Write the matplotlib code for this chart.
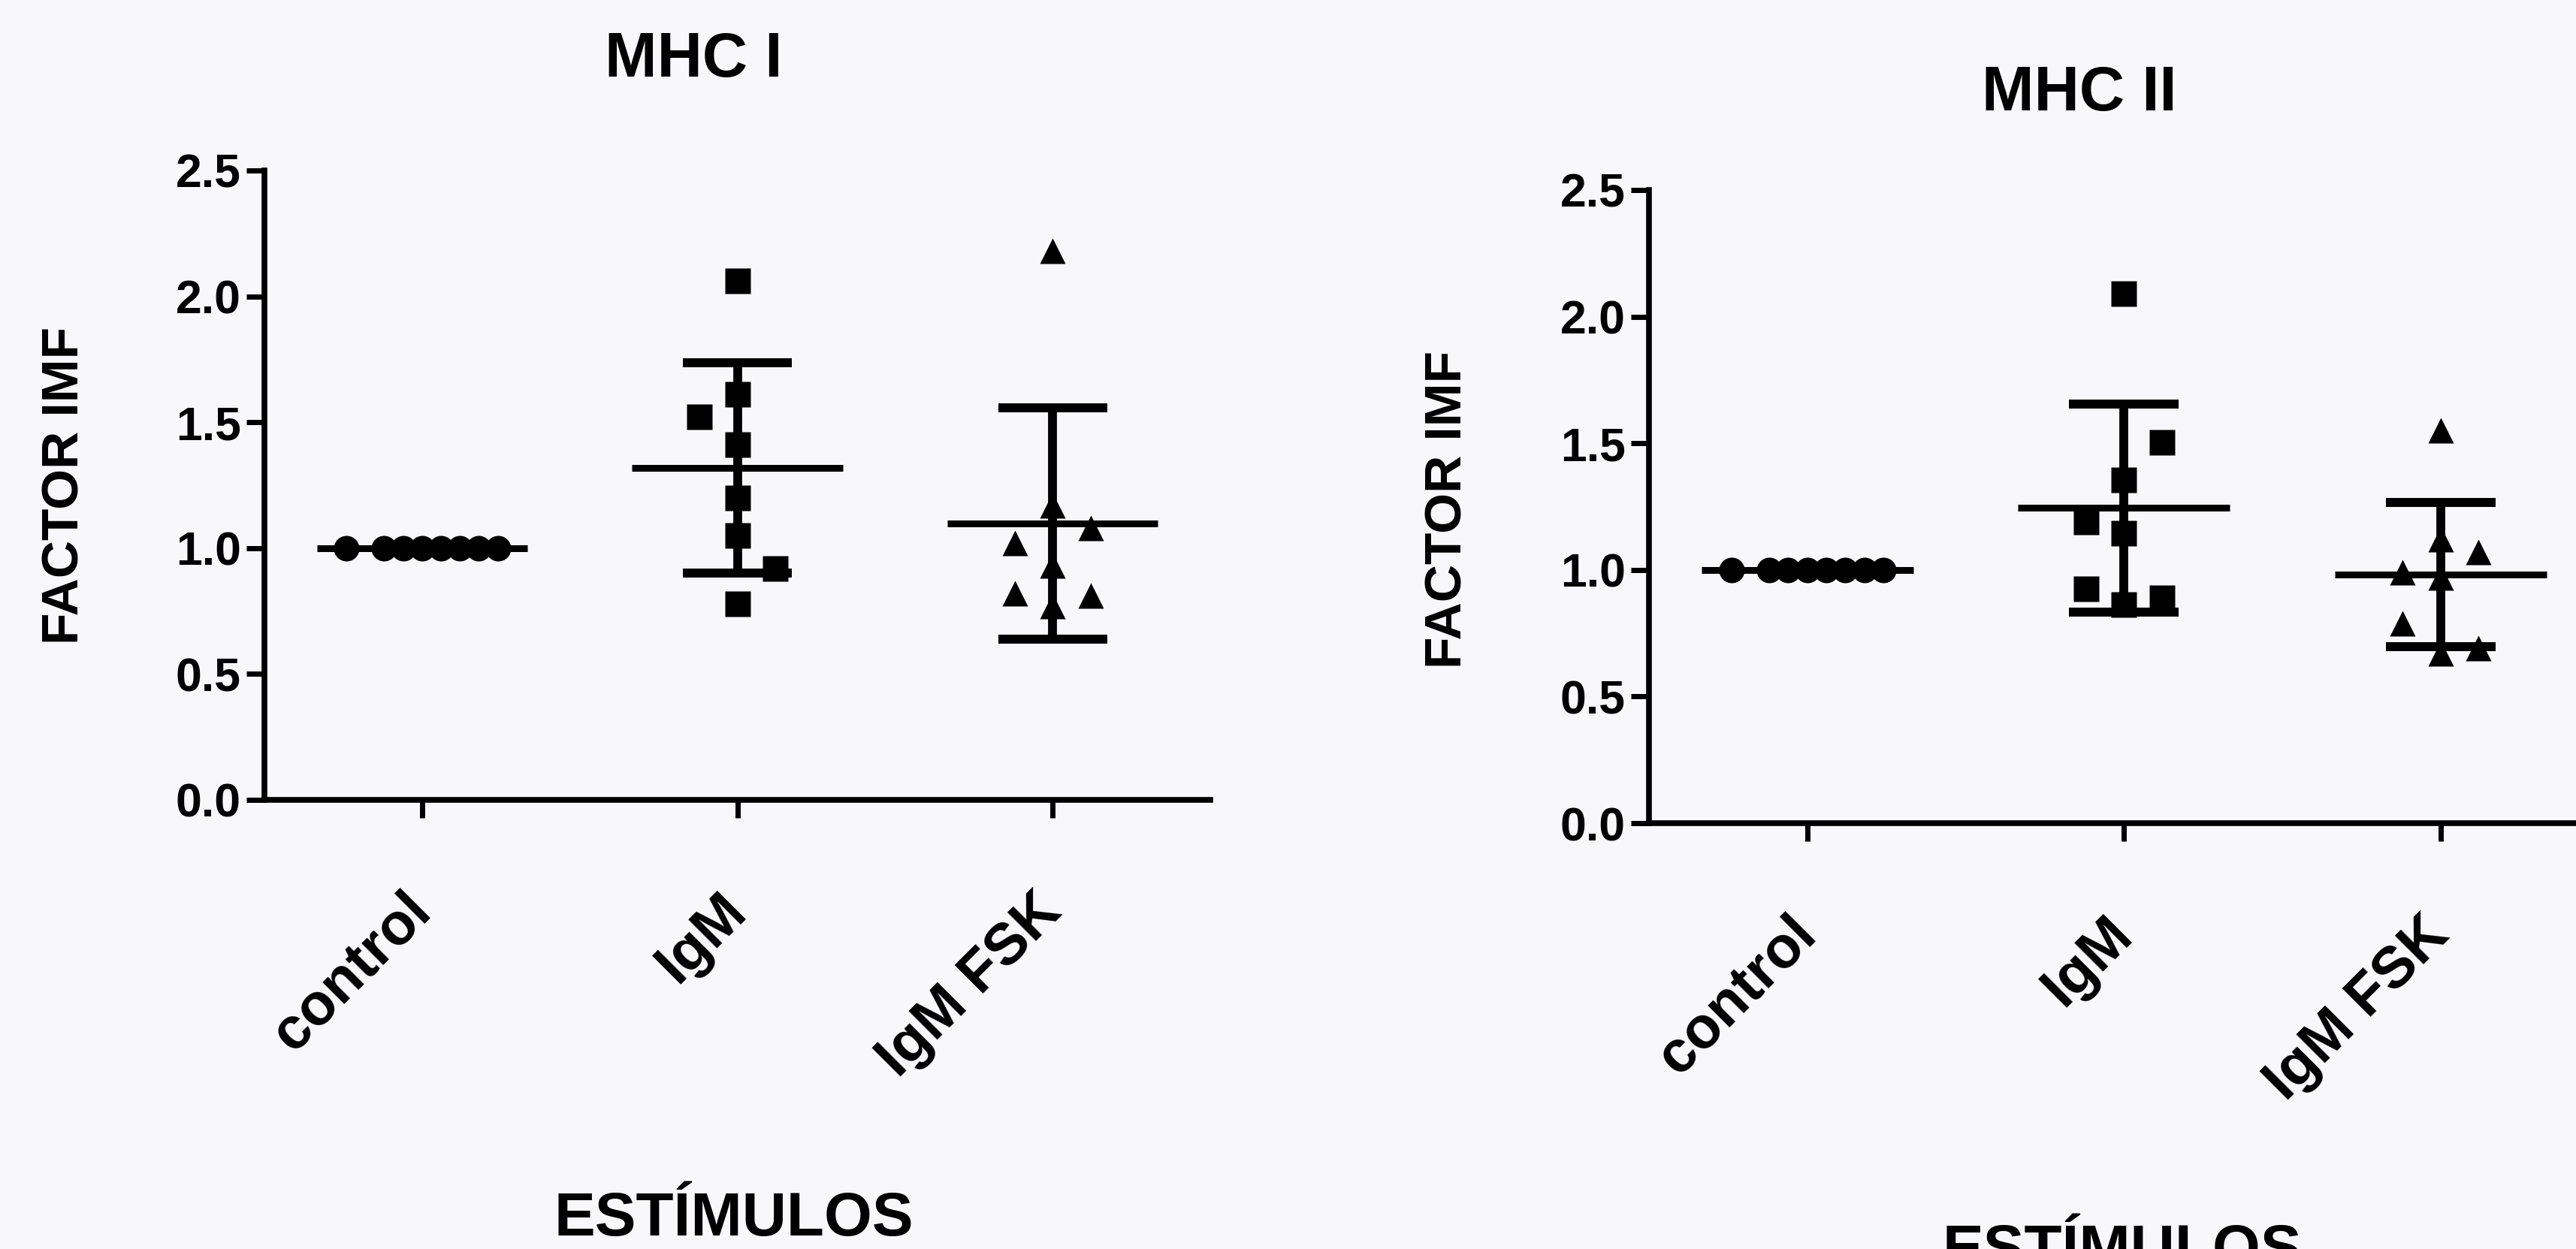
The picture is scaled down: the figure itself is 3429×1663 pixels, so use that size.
import numpy as np
import matplotlib
matplotlib.use("Agg")
import matplotlib.pyplot as plt

plt.rcParams['font.family'] = ['Liberation Sans', 'DejaVu Sans']
plt.rcParams['font.weight'] = 'bold'

# categories and values (FACTOR IMF)
categories = ['control', 'IgM', 'IgM FSK']

mhc1_control = [1.0, 1.0, 1.0, 1.0, 1.0, 1.0, 1.0, 1.0]
mhc1_igm = [2.06, 1.61, 1.52, 1.41, 1.20, 1.05, 0.92, 0.78]
mhc1_igm_fsk = [2.18, 1.17, 1.08, 1.02, 0.93, 0.82, 0.81, 0.77]

mhc2_control = [1.0, 1.0, 1.0, 1.0, 1.0, 1.0, 1.0, 1.0]
mhc2_igm = [2.09, 1.505, 1.356, 1.188, 1.144, 0.924, 0.863, 0.889]
mhc2_igm_fsk = [1.55, 1.12, 1.07, 0.99, 0.97, 0.79, 0.69, 0.67]

yticks = [0.0, 0.5, 1.0, 1.5, 2.0, 2.5]

# horizontal scatter slots (layout only, in units of slot_step)
control_slots = [-4, -2, -1, 0, 1, 2, 3, 4]
mhc1_igm_slots = [0, 0, -2, 0, 0, 0, 2, 0]
mhc1_fsk_slots = [0, 0, 2, -2, 0, -2, 2, 0]
mhc2_igm_slots = [0, 2, 0, -2, 0, -2, 0, 2]
mhc2_fsk_slots = [0, 0, 2, -2, 0, -2, 2, 0]
slot_step = 0.06

markers = ['o', 's', '^']
W, H = 3429, 1663


def draw_panel(ax, groups, slots):
    for i, (vals, sl) in enumerate(zip(groups, slots)):
        vals = np.array(vals)
        x = i + np.array(sl) * slot_step
        ax.plot(x, vals, linestyle='none', marker=markers[i], ms=24.5,
                mec='none', mfc='black', zorder=3)
        m = vals.mean()
        sd = vals.std(ddof=1)
        ax.plot([i - 0.334, i + 0.334], [m, m], color='black', lw=6.5,
                solid_capstyle='butt', zorder=2)
        if sd > 0:
            ax.plot([i, i], [m - sd, m + sd], color='black', lw=8.5,
                    solid_capstyle='butt', zorder=2)
            for y in (m - sd, m + sd):
                ax.plot([i - 0.173, i + 0.173], [y, y], color='black', lw=8.6,
                        solid_capstyle='butt', zorder=2)

    ax.set_xlim(-0.5, 2.5)
    ax.set_ylim(0, 2.5)
    ax.set_yticks(yticks)
    ax.set_yticklabels(['%.1f' % t for t in yticks], fontsize=45, fontweight='bold')
    ax.set_xticks(range(len(categories)))
    ax.set_xticklabels(categories, fontsize=56, fontweight='bold', rotation=45,
                       ha='right', va='center', rotation_mode='anchor')
    ax.tick_params(axis='both', length=17.5, width=5, color='black', direction='out')
    ax.tick_params(axis='y', pad=5)
    ax.tick_params(axis='x', pad=81)
    for s in ['top', 'right']:
        ax.spines[s].set_visible(False)
    for s in ['left', 'bottom']:
        ax.spines[s].set_linewidth(5.5)
    ax.patch.set_alpha(0)


fig = plt.figure(figsize=(W / 100, H / 100), dpi=100, facecolor='#f8f8fa')

ax1 = fig.add_axes([352 / W, 1 - 1065 / H, 1259 / W, 838 / H])
draw_panel(ax1, [mhc1_control, mhc1_igm, mhc1_igm_fsk],
           [control_slots, mhc1_igm_slots, mhc1_fsk_slots])

ax2 = fig.add_axes([2195 / W, 1 - 1096 / H, 1264.5 / W, 843 / H])
draw_panel(ax2, [mhc2_control, mhc2_igm, mhc2_igm_fsk],
           [control_slots, mhc2_igm_slots, mhc2_fsk_slots])

# titles and axis labels
fig.text(923 / W, 1 - 80 / H, 'MHC I', fontsize=60, fontweight='bold',
         ha='center', va='center')
fig.text(2768 / W, 1 - 125 / H, 'MHC II', fontsize=60, fontweight='bold',
         ha='center', va='center')
fig.text(87 / W, 1 - 647 / H, 'FACTOR IMF', fontsize=50, fontweight='bold',
         rotation=90, ha='center', va='center')
fig.text(1928 / W, 1 - 678 / H, 'FACTOR IMF', fontsize=50, fontweight='bold',
         rotation=90, ha='center', va='center')
fig.text(977 / W, 1 - 1645 / H, 'ESTÍMULOS', fontsize=59, fontweight='bold',
         ha='center', va='baseline')
fig.text(2825 / W, 1 - 1688 / H, 'ESTÍMULOS', fontsize=59, fontweight='bold',
         ha='center', va='baseline')

fig.savefig('out.png', dpi=100, facecolor=fig.get_facecolor())
